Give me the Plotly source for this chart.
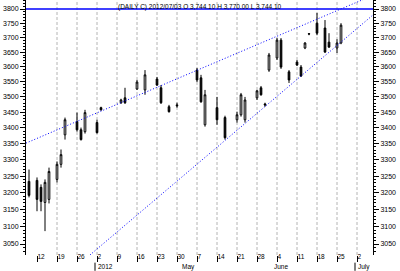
import math
import plotly.graph_objects as go

# ---- data (trading-day index, OHLC) ----
idx = [0, 2, 3, 4, 5, 7, 8, 9, 12, 13, 14, 17, 18, 23, 24, 27, 29, 32, 33, 35, 37,
       42, 43, 44, 47, 49, 52, 53, 54, 57, 58, 59, 60, 62, 63, 65, 67, 68, 69, 70,
       72, 74, 75, 77, 78]
opn = [3234, 3237, 3216, 3171, 3180, 3240, 3286, 3378, 3420, 3394, 3388, 3417, 3465, 3481, 3497, 3526, 3523, 3559, 3530, 3468, 3474,
       3589, 3563, 3410, 3465, 3433, 3426, 3442, 3426, 3497, 3530, 3477, 3589, 3630, 3691, 3583, 3616, 3599, 3664, 3712,
       3750, 3733, 3684, 3664, 3681]
high = [3270, 3246, 3225, 3240, 3276, 3295, 3332, 3433, 3449, 3401, 3458, 3426, 3468, 3494, 3530, 3556, 3589, 3566, 3539, 3474, 3481,
        3596, 3573, 3523, 3500, 3439, 3452, 3513, 3500, 3523, 3536, 3481, 3647, 3698, 3698, 3589, 3623, 3606, 3684, 3715,
        3786, 3761, 3715, 3694, 3750]
low = [3186, 3145, 3145, 3087, 3168, 3231, 3276, 3363, 3388, 3360, 3382, 3382, 3455, 3477, 3477, 3523, 3507, 3536, 3477, 3449, 3465,
       3549, 3481, 3404, 3410, 3363, 3417, 3436, 3417, 3490, 3504, 3468, 3583, 3623, 3593, 3546, 3603, 3566, 3660, 3708,
       3708, 3647, 3664, 3647, 3677]
close = [3192, 3180, 3174, 3231, 3264, 3286, 3316, 3426, 3394, 3363, 3449, 3385, 3458, 3490, 3481, 3549, 3573, 3539, 3481, 3452, 3471,
         3556, 3484, 3507, 3426, 3369, 3442, 3507, 3490, 3520, 3507, 3474, 3640, 3691, 3599, 3556, 3606, 3569, 3681, 3713,
         3715, 3650, 3667, 3681, 3743]

# x-axis weekly ticks (trading-day index of each Monday) and labels
tick_idx = [2, 7, 12, 17, 22, 27, 32, 37, 42, 47, 52, 57, 62, 67, 72, 77, 82]
tick_txt = ["12", "19", "26", "2", "9", "16", "23", "30", "7", "14", "21", "28", "4", "11", "18", "25", "2"]
grid_idx = tick_idx[1:]
month_idx = [17, 38, 61, 82]
month_txt = ["2012", "May", "June", "July"]

# y-axis labels
y_ticks = list(range(3050, 3801, 50))
y_minor = [v for v in range(3030, 3831, 10) if v % 50 != 0]

# lines
resist_x = [-0.75, 86]
resist_y = [3800, 3800]
upper_x = [-0.75, 86]
upper_y = [3352, 3849]
lower_x = [15.25, 86]
lower_y = [3019, 3779]

y_lo, y_hi = 3018.8, 3832.2
x_lo, x_hi = -0.75, 86

fig = go.Figure()
fig.add_trace(go.Candlestick(
    x=idx, open=opn, high=high, low=low, close=close,
    increasing=dict(line=dict(color="black", width=1), fillcolor="white"),
    decreasing=dict(line=dict(color="black", width=1), fillcolor="black"),
    whiskerwidth=0, showlegend=False, hoverinfo="skip"))
fig.add_trace(go.Scatter(x=resist_x, y=resist_y, mode="lines",
                         line=dict(color="#0000ff", width=1.5), showlegend=False, hoverinfo="skip"))
fig.add_trace(go.Scatter(x=upper_x, y=upper_y, mode="lines",
                         line=dict(color="#0000ff", width=1, dash="1px,2px"), showlegend=False, hoverinfo="skip"))
fig.add_trace(go.Scatter(x=lower_x, y=lower_y, mode="lines",
                         line=dict(color="#0000ff", width=1, dash="1px,2px"), showlegend=False, hoverinfo="skip"))
fig.add_trace(go.Scatter(x=[x_lo], y=[3800], yaxis="y2", mode="markers",
                         marker=dict(opacity=0), showlegend=False, hoverinfo="skip"))

for g in grid_idx:
    fig.add_shape(type="line", xref="x", yref="paper", x0=g, x1=g, y0=0, y1=1,
                  line=dict(color="#b4b4b4", width=1, dash="3px,2px"), layer="below")
for m in [17, 82]:
    fig.add_shape(type="line", xref="x", yref="paper", x0=m - 0.5, x1=m - 0.5, y0=-0.03, y1=-0.062,
                  line=dict(color="black", width=1))

for m, t in zip(month_idx, month_txt):
    fig.add_annotation(x=m - 0.3, y=-0.047, xref="x", yref="paper", text=t, showarrow=False,
                       xanchor="left", yanchor="middle", font=dict(size=6.5, color="#000000"))

fig.add_annotation(x=0.5, y=1.0, xref="paper", yref="paper", yshift=-1,
                   text="(DAILY C) 2012/07/03 O 3,744.10 H 3,770.00 L 3,744.10",
                   showarrow=False, xanchor="center", yanchor="top", font=dict(size=6.5, color="black"))

axis_font = dict(family="Liberation Sans, Arial, sans-serif", size=7, color="black")
fig.update_layout(
    width=400, height=271,
    margin=dict(l=26, r=27, t=0, b=16),
    paper_bgcolor="white", plot_bgcolor="white",
    font=axis_font, boxgap=0.4,
    xaxis=dict(range=[x_lo, x_hi], tickvals=tick_idx, ticktext=tick_txt, ticks="outside", ticklen=6,
               tickcolor="black", showgrid=False, zeroline=False, showline=False,
               ticklabelposition="outside right", ticklabelstandoff=-5,
               rangeslider=dict(visible=False), tickfont=dict(size=6.5, color="black")),
    yaxis=dict(type="log", range=[math.log10(y_lo), math.log10(y_hi)], tickvals=y_ticks,
               ticktext=[str(v) for v in y_ticks], ticks="outside", ticklen=5, tickcolor="black",
               showline=True, linecolor="black", linewidth=1, showgrid=False, zeroline=False,
               minor=dict(tickvals=y_minor, ticks="outside", ticklen=2, tickcolor="black"),
               tickfont=axis_font),
    yaxis2=dict(type="log", overlaying="y", side="right", matches="y", tickvals=y_ticks,
                ticktext=[str(v) for v in y_ticks], ticks="outside", ticklen=5, tickcolor="black",
                showline=True, linecolor="black", linewidth=1, showgrid=False, zeroline=False,
                minor=dict(tickvals=y_minor, ticks="outside", ticklen=2, tickcolor="black"),
                tickfont=axis_font),
)

fig.write_html("out.html")
